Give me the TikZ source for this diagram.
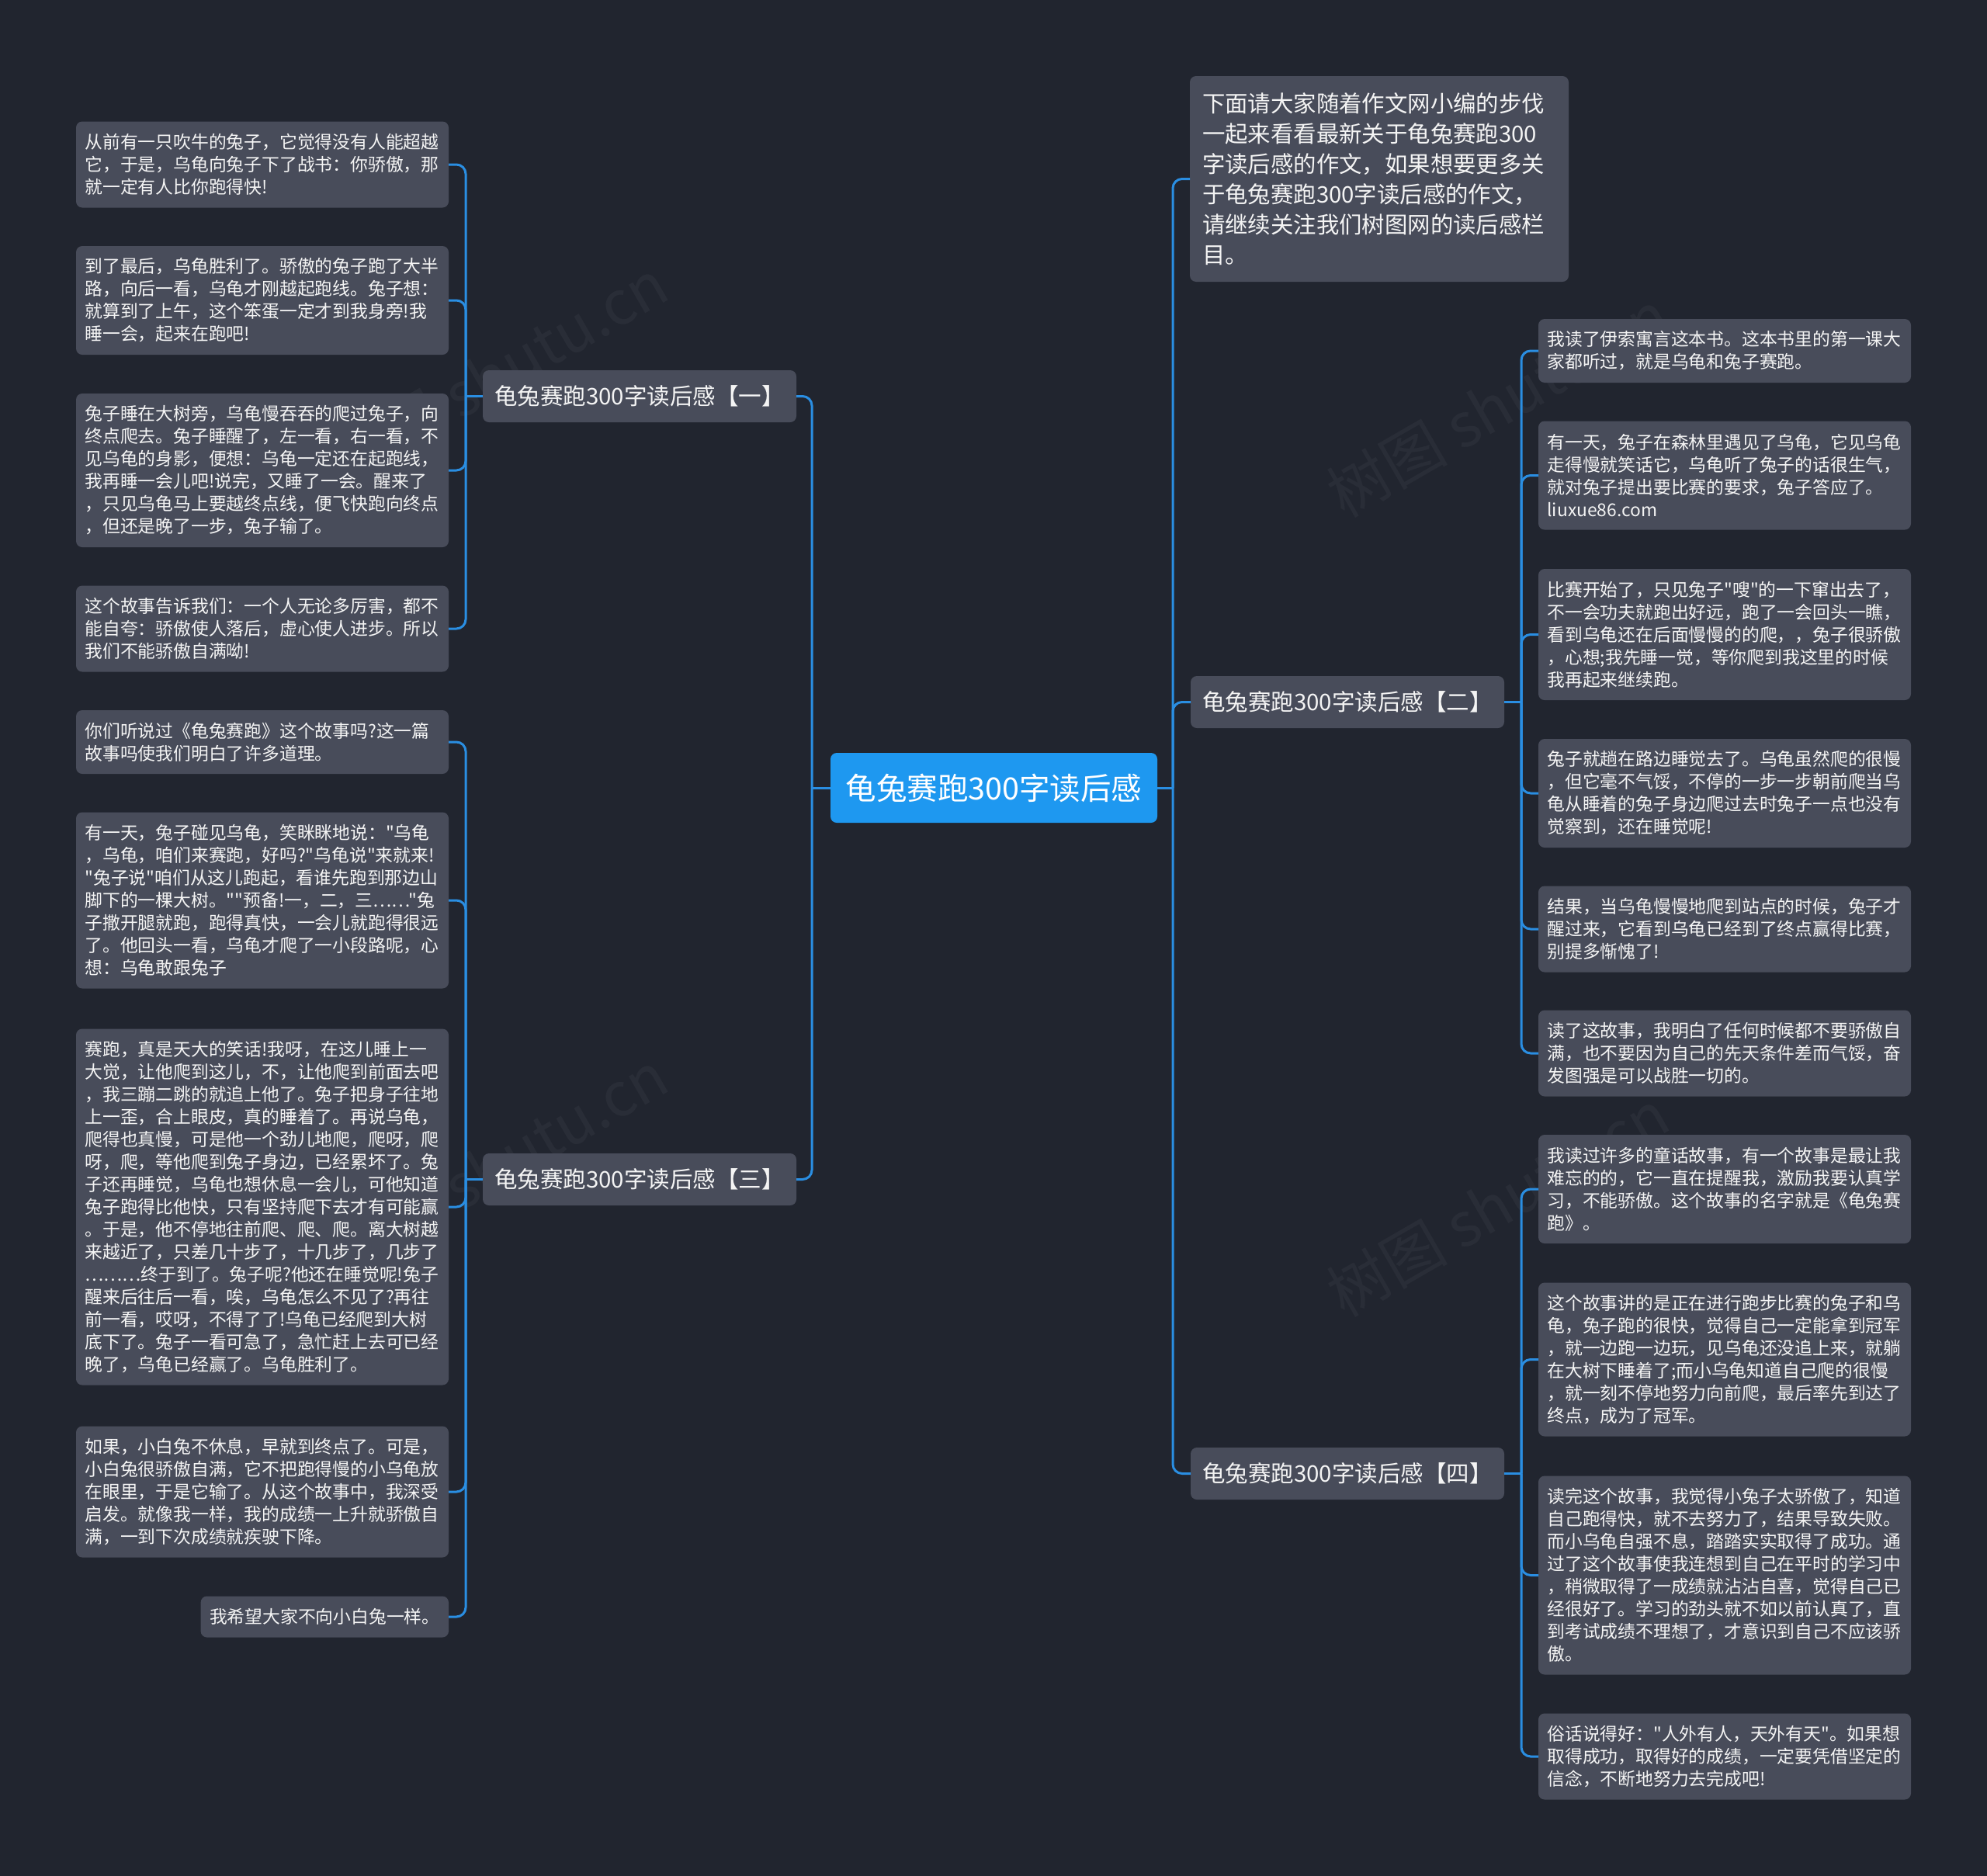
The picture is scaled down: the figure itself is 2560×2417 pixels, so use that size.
\documentclass[tikz,border=0pt]{standalone}
\usepackage{fontspec}
\newfontfamily\cjk{Noto Sans CJK SC}
\definecolor{bgc}{HTML}{21252F}
\definecolor{boxc}{HTML}{484C5A}
\definecolor{rootc}{HTML}{1E98F0}
\definecolor{linec}{HTML}{2A8EE2}
\definecolor{txtc}{HTML}{F4F4F4}
\newcommand\leaffont{\cjk\fontsize{22.8pt}{29pt}\selectfont}
\newcommand\grpfont{\cjk\fontsize{29.5pt}{36pt}\selectfont}
\newcommand\topfont{\cjk\fontsize{29.4pt}{39pt}\selectfont}
\newcommand\rootfont{\cjk\fontsize{39.5pt}{46pt}\selectfont}
\begin{document}
\begin{tikzpicture}[x=1pt,y=-1pt,
  leaf/.style={fill=boxc, rounded corners=8pt, text=txtc, inner xsep=11.5pt, inner ysep=0pt, outer sep=0pt, align=left, text width=457pt, font=\leaffont},
  grp/.style={fill=boxc, rounded corners=8pt, text=txtc, inner xsep=14pt, inner ysep=0pt, outer sep=0pt, minimum width=404pt, minimum height=67pt, font=\grpfont},
  conn/.style={draw=linec, line width=3pt, rounded corners=12pt},
  wm/.style={text=white, opacity=0.04, font=\cjk\fontsize{78pt}{78pt}\selectfont, rotate=30}]
\fill[bgc] (0,0) rectangle (2560,2417);
\useasboundingbox (0,0) rectangle (2560,2417);

% watermarks (behind)
\node[wm] (wm1) at (1930,520) {树图 shutu.cn};
\node[wm] (wm2) at (1930,1550) {树图 shutu.cn};
\node[wm] (wm3) at (640,480) {树图 shutu.cn};
\node[wm] (wm4) at (640,1500) {树图 shutu.cn};

% root
\node[fill=rootc, rounded corners=8pt, text=white, outer sep=0pt, inner sep=0pt, minimum width=421pt, minimum height=90pt, font=\rootfont] (root) at (1280.5,1015) {龟兔赛跑300字读后感};

% level 1
\node[grp, anchor=east] (g1) at (1026,510.5) {龟兔赛跑300字读后感【一】};
\node[grp, anchor=east] (g3) at (1026,1519.5) {龟兔赛跑300字读后感【三】};
\node[grp, anchor=west] (g2) at (1534,904.5) {龟兔赛跑300字读后感【二】};
\node[grp, anchor=west] (g4) at (1534,1898.5) {龟兔赛跑300字读后感【四】};
\node[fill=boxc, rounded corners=8pt, text=txtc, inner xsep=16pt, inner ysep=0pt, outer sep=0pt, align=left, text width=456pt, minimum height=265pt, font=\topfont, anchor=north west] (r0) at (1533,98) {下面请大家随着作文网小编的步伐\\一起来看看最新关于龟兔赛跑300\\字读后感的作文，如果想要更多关\\于龟兔赛跑300字读后感的作文，\\请继续关注我们树图网的读后感栏\\目。};

% group 1 leaves
\node[leaf, anchor=east, minimum height=111pt] (l1a) at (578,212) {从前有一只吹牛的兔子，它觉得没有人能超越\\它，于是，乌龟向兔子下了战书：你骄傲，那\\就一定有人比你跑得快!};
\node[leaf, anchor=east, minimum height=140pt] (l1b) at (578,387) {到了最后，乌龟胜利了。骄傲的兔子跑了大半\\路，向后一看，乌龟才刚越起跑线。兔子想：\\就算到了上午，这个笨蛋一定才到我身旁!我\\睡一会，起来在跑吧!};
\node[leaf, anchor=east, minimum height=198pt] (l1c) at (578,606) {兔子睡在大树旁，乌龟慢吞吞的爬过兔子，向\\终点爬去。兔子睡醒了，左一看，右一看，不\\见乌龟的身影，便想：乌龟一定还在起跑线，\\我再睡一会儿吧!说完，又睡了一会。醒来了\\，只见乌龟马上要越终点线，便飞快跑向终点\\，但还是晚了一步，兔子输了。};
\node[leaf, anchor=east, minimum height=111pt] (l1d) at (578,810) {这个故事告诉我们：一个人无论多厉害，都不\\能自夸：骄傲使人落后，虚心使人进步。所以\\我们不能骄傲自满呦!};

% group 3 leaves
\node[leaf, anchor=east, minimum height=82pt] (l3a) at (578,956) {你们听说过《龟兔赛跑》这个故事吗?这一篇\\故事吗使我们明白了许多道理。};
\node[leaf, anchor=east, minimum height=227pt] (l3b) at (578,1160) {有一天，兔子碰见乌龟，笑眯眯地说："乌龟\\，乌龟，咱们来赛跑，好吗?"乌龟说"来就来!\\"兔子说"咱们从这儿跑起，看谁先跑到那边山\\脚下的一棵大树。""预备!一，二，三……"兔\\子撒开腿就跑，跑得真快，一会儿就跑得很远\\了。他回头一看，乌龟才爬了一小段路呢，心\\想：乌龟敢跟兔子};
\node[leaf, anchor=east, minimum height=459pt] (l3c) at (578,1555) {赛跑，真是天大的笑话!我呀，在这儿睡上一\\大觉，让他爬到这儿，不，让他爬到前面去吧\\，我三蹦二跳的就追上他了。兔子把身子往地\\上一歪，合上眼皮，真的睡着了。再说乌龟，\\爬得也真慢，可是他一个劲儿地爬，爬呀，爬\\呀，爬，等他爬到兔子身边，已经累坏了。兔\\子还再睡觉，乌龟也想休息一会儿，可他知道\\兔子跑得比他快，只有坚持爬下去才有可能赢\\。于是，他不停地往前爬、爬、爬。离大树越\\来越近了，只差几十步了，十几步了，几步了\\………终于到了。兔子呢?他还在睡觉呢!兔子\\醒来后往后一看，唉，乌龟怎么不见了?再往\\前一看，哎呀，不得了了!乌龟已经爬到大树\\底下了。兔子一看可急了，急忙赶上去可已经\\晚了，乌龟已经赢了。乌龟胜利了。};
\node[leaf, anchor=east, minimum height=169pt] (l3d) at (578,1922) {如果，小白兔不休息，早就到终点了。可是，\\小白兔很骄傲自满，它不把跑得慢的小乌龟放\\在眼里，于是它输了。从这个故事中，我深受\\启发。就像我一样，我的成绩一上升就骄傲自\\满，一到下次成绩就疾驶下降。};
\node[leaf, anchor=east, minimum height=53pt, text width={}] (l3e) at (578,2083) {我希望大家不向小白兔一样。};

% group 2 leaves
\node[leaf, anchor=west, minimum height=82pt] (r2a) at (1982,452) {我读了伊索寓言这本书。这本书里的第一课大\\家都听过，就是乌龟和兔子赛跑。};
\node[leaf, anchor=west, minimum height=140pt] (r2b) at (1982,612.5) {有一天，兔子在森林里遇见了乌龟，它见乌龟\\走得慢就笑话它，乌龟听了兔子的话很生气，\\就对兔子提出要比赛的要求，兔子答应了。\\liuxue86.com};
\node[leaf, anchor=west, minimum height=169pt] (r2c) at (1982,817.5) {比赛开始了，只见兔子"嗖"的一下窜出去了，\\不一会功夫就跑出好远，跑了一会回头一瞧，\\看到乌龟还在后面慢慢的的爬，，兔子很骄傲\\，心想;我先睡一觉，等你爬到我这里的时候\\我再起来继续跑。};
\node[leaf, anchor=west, minimum height=140pt] (r2d) at (1982,1022) {兔子就趟在路边睡觉去了。乌龟虽然爬的很慢\\，但它毫不气馁，不停的一步一步朝前爬当乌\\龟从睡着的兔子身边爬过去时兔子一点也没有\\觉察到，还在睡觉呢!};
\node[leaf, anchor=west, minimum height=111pt] (r2e) at (1982,1197) {结果，当乌龟慢慢地爬到站点的时候，兔子才\\醒过来，它看到乌龟已经到了终点赢得比赛，\\别提多惭愧了!};
\node[leaf, anchor=west, minimum height=111pt] (r2f) at (1982,1357) {读了这故事，我明白了任何时候都不要骄傲自\\满，也不要因为自己的先天条件差而气馁，奋\\发图强是可以战胜一切的。};

% group 4 leaves
\node[leaf, anchor=west, minimum height=140pt] (r4a) at (1982,1532) {我读过许多的童话故事，有一个故事是最让我\\难忘的的，它一直在提醒我，激励我要认真学\\习，不能骄傲。这个故事的名字就是《龟兔赛\\跑》。};
\node[leaf, anchor=west, minimum height=198pt] (r4b) at (1982,1751.5) {这个故事讲的是正在进行跑步比赛的兔子和乌\\龟，兔子跑的很快，觉得自己一定能拿到冠军\\，就一边跑一边玩，见乌龟还没追上来，就躺\\在大树下睡着了;而小乌龟知道自己爬的很慢\\，就一刻不停地努力向前爬，最后率先到达了\\终点，成为了冠军。};
\node[leaf, anchor=west, minimum height=256pt] (r4c) at (1982,2029.5) {读完这个故事，我觉得小兔子太骄傲了，知道\\自己跑得快，就不去努力了，结果导致失败。\\而小乌龟自强不息，踏踏实实取得了成功。通\\过了这个故事使我连想到自己在平时的学习中\\，稍微取得了一成绩就沾沾自喜，觉得自己已\\经很好了。学习的劲头就不如以前认真了，直\\到考试成绩不理想了，才意识到自己不应该骄\\傲。};
\node[leaf, anchor=west, minimum height=111pt] (r4d) at (1982,2263) {俗话说得好："人外有人，天外有天"。如果想\\取得成功，取得好的成绩，一定要凭借坚定的\\信念，不断地努力去完成吧!};

% connectors
\draw[conn] (root.east) -- ++(20,0) coordinate (rj);
\foreach \c in {r0,g2,g4} \draw[conn] (rj) |- (\c.west);
\draw[conn] (root.west) -- ++(-24,0) coordinate (lj);
\foreach \c in {g1,g3} \draw[conn] (lj) |- (\c.east);
\draw[conn] (g1.west) -- ++(-22,0) coordinate (g1j);
\foreach \c in {l1a,l1b,l1c,l1d} \draw[conn] (g1j) |- (\c.east);
\draw[conn] (g3.west) -- ++(-22,0) coordinate (g3j);
\foreach \c in {l3a,l3b,l3c,l3d,l3e} \draw[conn] (g3j) |- (\c.east);
\draw[conn] (g2.east) -- ++(22,0) coordinate (g2j);
\foreach \c in {r2a,r2b,r2c,r2d,r2e,r2f} \draw[conn] (g2j) |- (\c.west);
\draw[conn] (g4.east) -- ++(22,0) coordinate (g4j);
\foreach \c in {r4a,r4b,r4c,r4d} \draw[conn] (g4j) |- (\c.west);
\end{tikzpicture}
\end{document}
